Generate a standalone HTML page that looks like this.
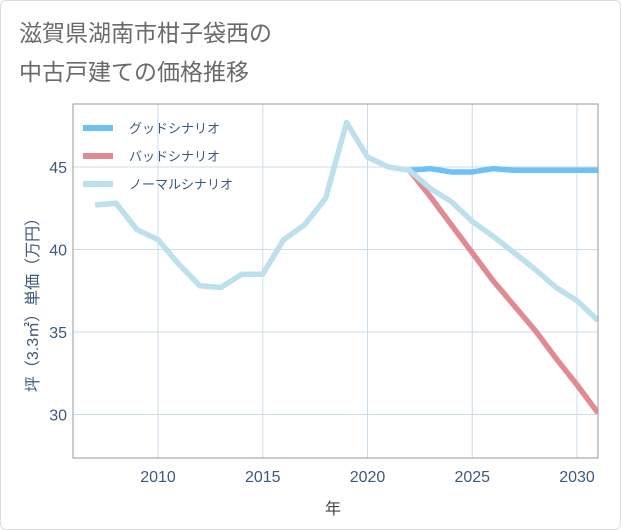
<!DOCTYPE html>
<html><head><meta charset="utf-8"><style>
body{margin:0;background:#fff;font-family:"Liberation Sans","Noto Sans CJK JP",sans-serif;}
#wrap{position:relative;width:619px;height:528px;border:1px solid #ddd;border-radius:6px;overflow:hidden;background:#fff}
</style></head><body>
<div id="wrap">
<svg id="chart" width="621" height="530">
<text x="18" y="40" font-size="23" fill="#6a6a6a" font-family="Liberation Sans, Noto Sans CJK JP, sans-serif">滋賀県湖南市柑子袋西の</text>
<text x="18" y="79" font-size="23" fill="#6a6a6a" font-family="Liberation Sans, Noto Sans CJK JP, sans-serif">中古戸建ての価格推移</text>
<g id="grid"></g><g id="series"></g><g id="axes"></g>
<rect x="72" y="103" width="525" height="354" fill="none" stroke="#999" stroke-width="1"/>
<text x="332" y="513" font-size="16" fill="#444" text-anchor="middle" font-family="Liberation Sans, Noto Sans CJK JP, sans-serif">年</text>
<text transform="translate(37,300) rotate(-90)" font-size="16" fill="#3d5a7a" text-anchor="middle" font-family="Liberation Sans, Noto Sans CJK JP, sans-serif">坪（3.3㎡）単価（万円）</text>
<g id="legend"></g>
</svg></div>
<script>
const years=[2007,2008,2009,2010,2011,2012,2013,2014,2015,2016,2017,2018,2019,2020,2021,2022,2023,2024,2025,2026,2027,2028,2029,2030,2031];
const normalVals=[42.7,42.8,41.2,40.6,39.1,37.8,37.7,38.5,38.5,40.6,41.5,43.1,47.7,45.6,45.0,44.8,43.7,42.9,41.7,40.8,39.8,38.8,37.7,36.9,35.7];
const futureYears=[2022,2023,2024,2025,2026,2027,2028,2029,2030,2031];
const goodVals=[44.8,44.9,44.7,44.7,44.9,44.8,44.8,44.8,44.8,44.8];
const badVals=[44.8,43.2,41.5,39.8,38.1,36.6,35.1,33.4,31.8,30.1];
const xTicks=[2010,2015,2020,2025,2030];
const yTicks=[30,35,40,45];
const legendLabels=["グッドシナリオ","バッドシナリオ","ノーマルシナリオ"];
const NS="http://www.w3.org/2000/svg";
const X0=72,X1=597,Y0=103,Y1=457;
function xs(v){return 157+(v-2010)*20.95;}
function ys(v){return 166-(v-45)*16.5;}
function mk(t,a,p){const e=document.createElementNS(NS,t);for(const k in a)e.setAttribute(k,a[k]);p.appendChild(e);return e;}
const grid=document.getElementById('grid'),axes=document.getElementById('axes'),ser=document.getElementById('series'),leg=document.getElementById('legend');
xTicks.forEach(v=>{const l=mk('line',{x1:xs(v),x2:xs(v),y1:Y0,y2:Y1,stroke:'#c9dce8'},grid);


const t=mk('text',{x:xs(v),y:481,'font-size':16,fill:'#3d5a7a','text-anchor':'middle'},axes);t.textContent=v;

});
yTicks.forEach(v=>{const l=mk('line',{x1:X0,x2:X1,y1:ys(v),y2:ys(v),stroke:'#c9dce8'},grid);


const t=mk('text',{x:66,y:ys(v)+6,'font-size':16,fill:'#3d5a7a','text-anchor':'end'},axes);t.textContent=v;

});
function line(xsA,vals,col,name){const p=mk('polyline',{points:xsA.map((y,i)=>xs(y)+','+ys(vals[i])).join(' '),fill:'none',stroke:col,'stroke-width':5.5,'stroke-linejoin':'round'},ser);

}
const cp=mk('clipPath',{id:'cp'},document.getElementById('chart'));mk('rect',{x:X0,y:Y0,width:X1-X0,height:Y1-Y0},cp);ser.setAttribute('clip-path','url(#cp)');
line(futureYears,badVals,'#e08a92','bad-scenario-line');
line(futureYears,goodVals,'#6ec0f5','good-scenario-line');
line(years,normalVals,'#bde0ec','normal-scenario-line');
const cols=['#6ec0f5','#e08a92','#bde0ec'];
legendLabels.forEach((s,i)=>{const y=127+i*28;
const r=mk('rect',{x:82,y:y-3,width:30,height:6,fill:cols[i]},leg);


const t=mk('text',{x:128,y:y+5,'font-size':13,fill:'#3d5a7a'},leg);t.textContent=s;

});
</script>
</body></html>
